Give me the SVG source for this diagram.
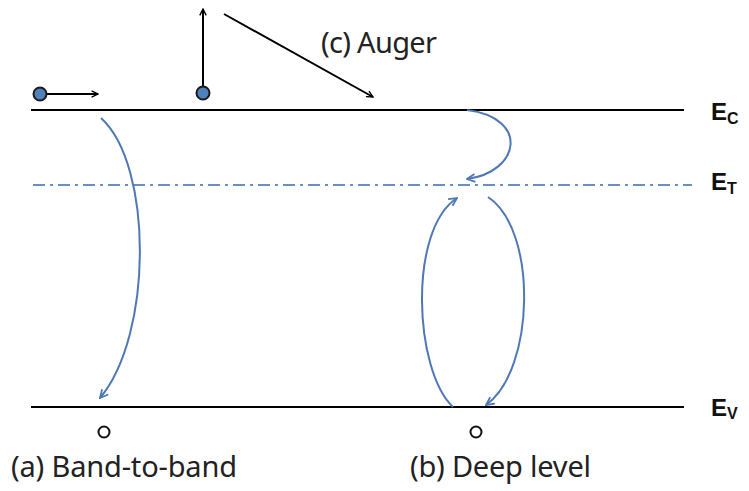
<svg xmlns="http://www.w3.org/2000/svg" width="749" height="491" viewBox="0 0 749 491">
<defs>
<style>
.band{stroke:#000;stroke-width:2.2;fill:none}
.trap{stroke:#6a8fc4;stroke-width:2;stroke-dasharray:12 5 3 5;fill:none}
.blk{stroke:#000;stroke-width:2;fill:none}
.blu{stroke:#4f78b5;stroke-width:2;fill:none}
.lbl{font-family:"Noto Sans",sans-serif;font-size:29px;fill:#222}
.e{font-family:"Liberation Sans",Arial,sans-serif;font-weight:bold;font-size:24px;fill:#111}
.sub{font-size:16px}
.elec{fill:#4f81bd;stroke:#1a1a1a;stroke-width:2}
.hole{fill:#fff;stroke:#111;stroke-width:2}
</style>
<marker id="ak" viewBox="0 0 10 10" refX="9" refY="5" markerWidth="8" markerHeight="8" orient="auto" markerUnits="userSpaceOnUse">
<path d="M1,1 L9,5 L1,9" fill="none" stroke="#000" stroke-width="1.7"/>
</marker>
<marker id="ab" viewBox="0 0 10 10" refX="9" refY="5" markerWidth="10" markerHeight="10" orient="auto" markerUnits="userSpaceOnUse">
<path d="M1,1 L9,5 L1,9" fill="none" stroke="#4f78b5" stroke-width="1.8"/>
</marker>
</defs>
<rect width="749" height="491" fill="#fff"/>
<g id="bands">
<line class="band" x1="31" y1="110" x2="684" y2="110"/>
<line class="band" x1="31" y1="407" x2="684" y2="407"/>
<line class="trap" x1="33" y1="185" x2="692" y2="185"/>
<text class="e" x="711" y="120">E<tspan class="sub" dy="4">C</tspan></text>
<text class="e" x="711" y="190">E<tspan class="sub" dy="4">T</tspan></text>
<text class="e" x="711" y="416">E<tspan class="sub" dy="3">V</tspan></text>
</g>
<g id="connectors">
<line class="blk" x1="46" y1="94" x2="98" y2="94" marker-end="url(#ak)"/>
<line class="blk" x1="203" y1="86" x2="203" y2="9" marker-end="url(#ak)"/>
<line class="blk" x1="224" y1="14" x2="373" y2="97" marker-end="url(#ak)"/>
<path class="blu" d="M101,118 C153,165 153,335 100,398" marker-end="url(#ab)"/>
<path class="blu" d="M467,110 C530,118 520,172 467,179" marker-end="url(#ab)"/>
<path class="blu" d="M453,407 C414,370 408,230 457,198" marker-end="url(#ab)"/>
<path class="blu" d="M488,197 C538,230 535,370 486,405" marker-end="url(#ab)"/>
</g>
<g id="auger">
<circle class="elec" cx="203" cy="93" r="6.5"/>
<text class="lbl" x="321" y="53" textLength="116">(c) Auger</text>
</g>
<g id="band-to-band">
<circle class="elec" cx="40" cy="94" r="6.5"/>
<circle class="hole" cx="104" cy="432" r="5.5"/>
<text class="lbl" x="11" y="477" textLength="226">(a) Band-to-band</text>
</g>
<g id="deep-level">
<circle class="hole" cx="476" cy="432" r="5.5"/>
<text class="lbl" x="410" y="477" textLength="181">(b) Deep level</text>
</g>
</svg>
